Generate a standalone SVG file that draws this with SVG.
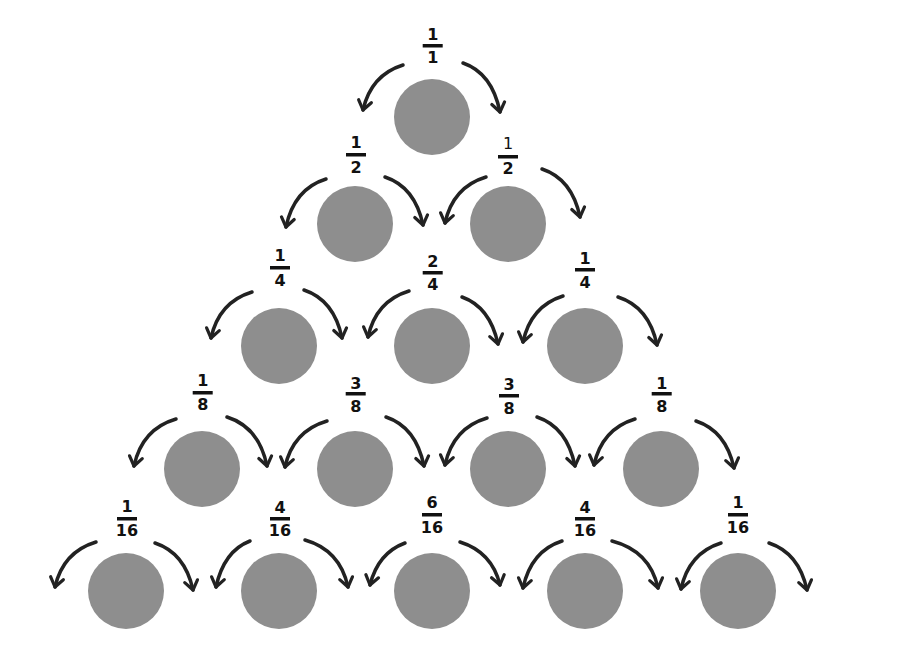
<svg xmlns="http://www.w3.org/2000/svg" width="915" height="650" viewBox="0 0 915 650">
<style>
.ball{fill:#8e8e8e}
.arr{fill:none;stroke:#222;stroke-width:3.5;stroke-linecap:round;marker-end:url(#head)}
.t{font-family:"DejaVu Sans",Verdana,sans-serif;font-weight:bold;font-size:16px;fill:#111;text-anchor:middle}
.thin{font-weight:normal}
.bar{fill:#111}
</style>
<defs>
<marker id="head" markerUnits="userSpaceOnUse" markerWidth="20" markerHeight="20" refX="0" refY="0" viewBox="-12 -10 14 20" orient="auto">
<path d="M -9 -6.5 L 0 0 L -9 6.5" fill="none" stroke="#222" stroke-width="3.2" stroke-linecap="round" stroke-linejoin="round"/>
</marker>
</defs>
<rect width="915" height="650" fill="#fff"/>
<g id="connectors">
<path class="arr" d="M403 65 Q371 75 363 110"/>
<path class="arr" d="M463 63 Q492 73 500 112"/>
<path class="arr" d="M326 179 Q294 189 286 227"/>
<path class="arr" d="M385 177 Q415 187 423 225"/>
<path class="arr" d="M486 177 Q453 187 445 223"/>
<path class="arr" d="M542 169 Q572 179 580 217"/>
<path class="arr" d="M252 292 Q219 302 211 338"/>
<path class="arr" d="M304 290 Q334 300 342 338"/>
<path class="arr" d="M409 291 Q376 301 368 337"/>
<path class="arr" d="M462 297 Q490 307 498 344"/>
<path class="arr" d="M563 296 Q531 306 523 342"/>
<path class="arr" d="M618 297 Q649 307 657 345"/>
<path class="arr" d="M176 419 Q142 429 134 466"/>
<path class="arr" d="M227 417 Q259 427 267 466"/>
<path class="arr" d="M327 421 Q293 431 285 467"/>
<path class="arr" d="M386 417 Q416 427 424 466"/>
<path class="arr" d="M487 418 Q453 428 445 465"/>
<path class="arr" d="M537 417 Q567 427 575 466"/>
<path class="arr" d="M635 419 Q602 429 594 465"/>
<path class="arr" d="M696 421 Q726 431 734 468"/>
<path class="arr" d="M96 542 Q63 552 55 587"/>
<path class="arr" d="M155 543 Q185 553 193 590"/>
<path class="arr" d="M250 541 Q224 551 216 587"/>
<path class="arr" d="M305 540 Q340 550 348 587"/>
<path class="arr" d="M405 543 Q378 553 370 585"/>
<path class="arr" d="M460 542 Q492 552 500 585"/>
<path class="arr" d="M562 541 Q531 551 523 588"/>
<path class="arr" d="M612 541 Q650 551 658 588"/>
<path class="arr" d="M721 543 Q689 553 681 589"/>
<path class="arr" d="M769 543 Q799 553 807 590"/>
</g>
<g id="n0"><circle class="ball" cx="432" cy="117" r="38"/><text class="t" x="432.7" y="40">1</text><rect class="bar" x="422.7" y="44" width="20" height="3.5"/><text class="t" x="432.7" y="63">1</text></g>
<g id="n1a"><circle class="ball" cx="355" cy="224" r="38"/><text class="t" x="356" y="148">1</text><rect class="bar" x="346" y="153" width="20" height="3.5"/><text class="t" x="356" y="173">2</text></g>
<g id="n1b"><circle class="ball" cx="508" cy="224" r="38"/><text class="t thin" x="508" y="149">1</text><rect class="bar" x="498" y="155" width="20" height="3.5"/><text class="t" x="508" y="174">2</text></g>
<g id="n2a"><circle class="ball" cx="279" cy="346" r="38"/><text class="t" x="280" y="261">1</text><rect class="bar" x="270" y="266" width="20" height="3.5"/><text class="t" x="280" y="286">4</text></g>
<g id="n2b"><circle class="ball" cx="432" cy="346" r="38"/><text class="t" x="432.7" y="267">2</text><rect class="bar" x="422.7" y="271" width="20" height="3.5"/><text class="t" x="432.7" y="290">4</text></g>
<g id="n2c"><circle class="ball" cx="585" cy="346" r="38"/><text class="t" x="585" y="264">1</text><rect class="bar" x="575" y="268" width="20" height="3.5"/><text class="t" x="585" y="288">4</text></g>
<g id="n3a"><circle class="ball" cx="202" cy="469" r="38"/><text class="t" x="202.7" y="386">1</text><rect class="bar" x="192.7" y="391" width="20" height="3.5"/><text class="t" x="202.7" y="410">8</text></g>
<g id="n3b"><circle class="ball" cx="355" cy="469" r="38"/><text class="t" x="355.7" y="389">3</text><rect class="bar" x="345.7" y="392" width="20" height="3.5"/><text class="t" x="355.7" y="412">8</text></g>
<g id="n3c"><circle class="ball" cx="508" cy="469" r="38"/><text class="t" x="509" y="390">3</text><rect class="bar" x="499" y="394" width="20" height="3.5"/><text class="t" x="509" y="414">8</text></g>
<g id="n3d"><circle class="ball" cx="661" cy="469" r="38"/><text class="t" x="661.7" y="389">1</text><rect class="bar" x="651.7" y="392" width="20" height="3.5"/><text class="t" x="661.7" y="412">8</text></g>
<g id="n4a"><circle class="ball" cx="126" cy="591" r="38"/><text class="t" x="127" y="512">1</text><rect class="bar" x="117" y="517" width="20" height="3.5"/><text class="t" x="127" y="536">16</text></g>
<g id="n4b"><circle class="ball" cx="279" cy="591" r="38"/><text class="t" x="280" y="513">4</text><rect class="bar" x="270" y="517" width="20" height="3.5"/><text class="t" x="280" y="536">16</text></g>
<g id="n4c"><circle class="ball" cx="432" cy="591" r="38"/><text class="t" x="432" y="508">6</text><rect class="bar" x="422" y="513" width="20" height="3.5"/><text class="t" x="432" y="533">16</text></g>
<g id="n4d"><circle class="ball" cx="585" cy="591" r="38"/><text class="t" x="585" y="513">4</text><rect class="bar" x="575" y="517" width="20" height="3.5"/><text class="t" x="585" y="536">16</text></g>
<g id="n4e"><circle class="ball" cx="738" cy="591" r="38"/><text class="t" x="738" y="508">1</text><rect class="bar" x="728" y="513" width="20" height="3.5"/><text class="t" x="738" y="533">16</text></g>
</svg>
